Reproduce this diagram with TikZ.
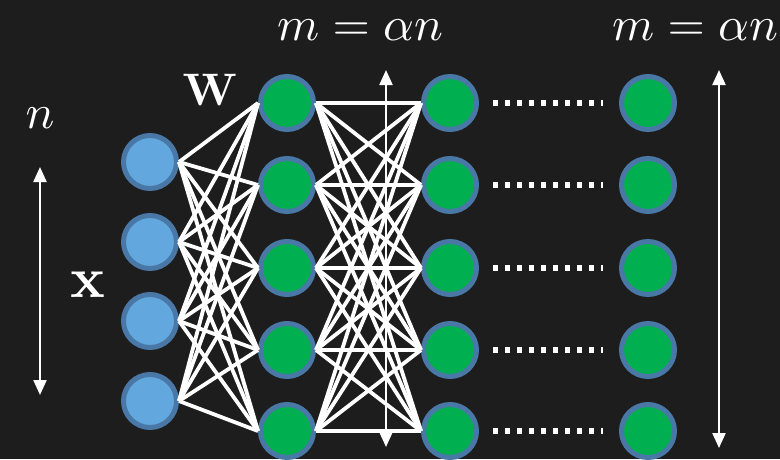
\documentclass[tikz,border=0pt]{standalone}
\usetikzlibrary{arrows.meta}
\definecolor{bgc}{HTML}{1D1D1E}
\definecolor{inblue}{HTML}{62A8DF}
\definecolor{ringc}{HTML}{4A78A6}
\definecolor{hgreen}{HTML}{00B050}
\tikzset{
  neuron/.style={circle, minimum size=53pt, inner sep=0pt, line width=5pt, draw=ringc},
  inneuron/.style={neuron, fill=inblue},
  hidneuron/.style={neuron, fill=hgreen},
  wire/.style={white, line width=3.8pt},
  dotline/.style={white, line width=5.3pt, dash pattern=on 5.3pt off 6.7pt},
  dimarrow/.style={white, line width=2.2pt, {Triangle[length=15pt,width=13pt]}-{Triangle[length=15pt,width=13pt]}},
  lab/.style={text=white, anchor=base, inner sep=0pt, scale=4.8}
}
\begin{document}
\begin{tikzpicture}[x=1pt,y=-1pt]
\fill[bgc] (0,0) rectangle (780,459);
\useasboundingbox (0,0) rectangle (780,459);
% input nodes
\foreach \i/\y in {1/162,2/242,3/321,4/401}
  \node[inneuron] (b\i) at (150,\y) {};
% hidden columns
\foreach \j/\y in {1/103,2/185,3/268,4/350,5/431}{
  \node[hidneuron] (g\j) at (287,\y) {};
  \node[hidneuron] (h\j) at (450,\y) {};
  \node[hidneuron] (k\j) at (648,\y) {};
}
% wires
\foreach \i in {1,...,4}
  \foreach \j in {1,...,5}
    \draw[wire] (b\i.east) -- (g\j.west);
\foreach \i in {1,...,5}
  \foreach \j in {1,...,5}
    \draw[wire] (g\i.east) -- (h\j.west);
% dotted links
\foreach \j/\y in {1/103,2/185,3/268,4/350,5/431}{
  \coordinate (ds\j) at (493,\y);
  \coordinate (de\j) at (603,\y);
  \draw[dotline] (ds\j) -- (de\j);
}
% dimension arrows
\coordinate (la) at (40,167); \coordinate (lb) at (40,395);
\coordinate (ma) at (386,70); \coordinate (mb) at (386,447);
\coordinate (ra) at (719,70); \coordinate (rb) at (719,448);
\draw[dimarrow] (la) -- (lb);
\draw[dimarrow] (ma) -- (mb);
\draw[dimarrow] (ra) -- (rb);
% labels
\node[lab] (l1) at (360,40) {$m=\alpha n$};
\node[lab] (l2) at (695,40) {$m=\alpha n$};
\node[lab] (ln) at (40,128) {$n$};
\node[lab, scale=0.95] (lw) at (210,105) {$\mathbf{W}$};
\node[lab, scale=1.2] (lx) at (88,297) {$\mathbf{x}$};
\end{tikzpicture}
\end{document}
